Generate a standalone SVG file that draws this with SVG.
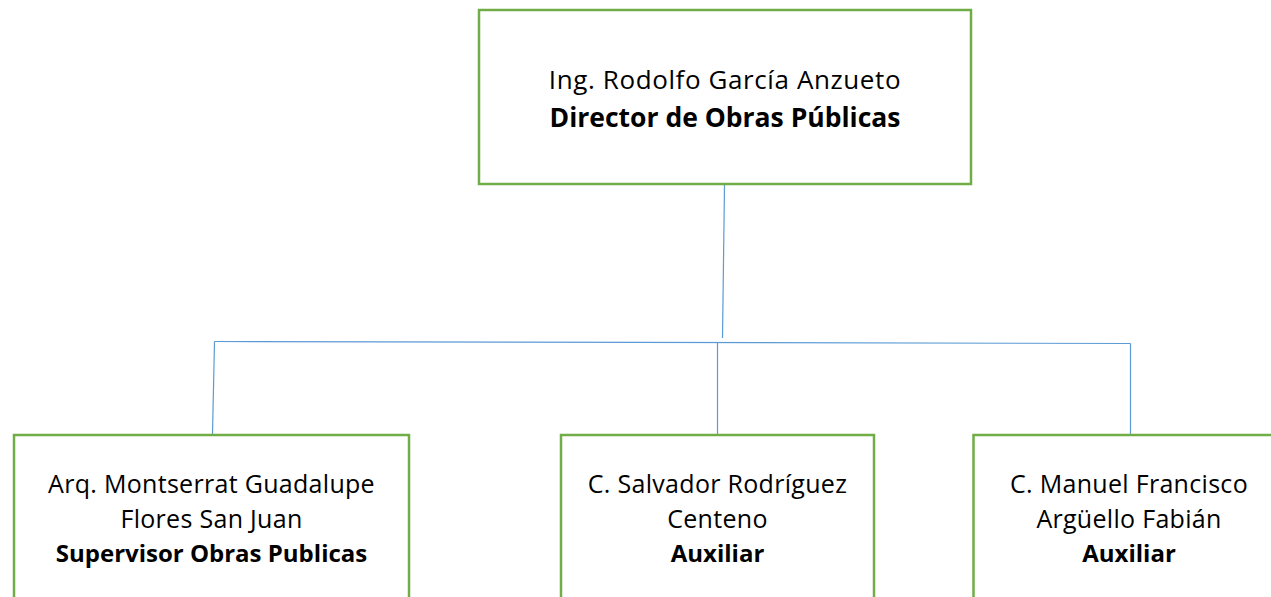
<svg xmlns="http://www.w3.org/2000/svg" width="1271" height="597" viewBox="0 0 1271 597">
<style>
.box{fill:#fff;stroke:#70AD47;stroke-width:2.5}
.t{font-family:"Open Sans","Liberation Sans",sans-serif;fill:#000;text-anchor:middle}
.tr{font-size:26px;letter-spacing:0.6px}
.tb{font-size:26.5px;font-weight:bold}
.br{font-size:25px;letter-spacing:0.3px}
.bb{font-size:24px;font-weight:bold}
.c{fill:none;stroke:#5B9BD5;stroke-width:1.2}
</style>
<rect width="1271" height="597" fill="#fff"/>
<g id="connectors">
<path class="c" d="M724.5 185 L722.5 338"/>
<path class="c" d="M214.5 341.5 L1130.5 343.5"/>
<path class="c" d="M214.5 341.5 L212.5 434"/>
<path class="c" d="M717.5 342.5 L717.5 434"/>
<path class="c" d="M1130.5 343.5 L1130.5 434"/>
</g>
<g id="director">
<rect class="box" x="479" y="10" width="492" height="174"/>
<text class="t tr" x="725" y="88.5">Ing. Rodolfo García Anzueto</text>
<text class="t tb" x="725" y="127">Director de Obras Públicas</text>
</g>
<g id="supervisor">
<rect class="box" x="14" y="435" width="395" height="180"/>
<text class="t br" x="211.5" y="492.5">Arq. Montserrat Guadalupe</text>
<text class="t br" x="211.5" y="527.5">Flores San Juan</text>
<text class="t bb" x="211.5" y="562">Supervisor Obras Publicas</text>
</g>
<g id="auxiliar1">
<rect class="box" x="561" y="435" width="313" height="180"/>
<text class="t br" x="717.5" y="492.5">C. Salvador Rodríguez</text>
<text class="t br" x="717.5" y="527.5">Centeno</text>
<text class="t bb" x="717.5" y="562">Auxiliar</text>
</g>
<g id="auxiliar2">
<rect class="box" x="973.5" y="435" width="313" height="180"/>
<text class="t br" x="1129" y="492.5">C. Manuel Francisco</text>
<text class="t br" x="1129" y="527.5">Argüello Fabián</text>
<text class="t bb" x="1129" y="562">Auxiliar</text>
</g>
</svg>
